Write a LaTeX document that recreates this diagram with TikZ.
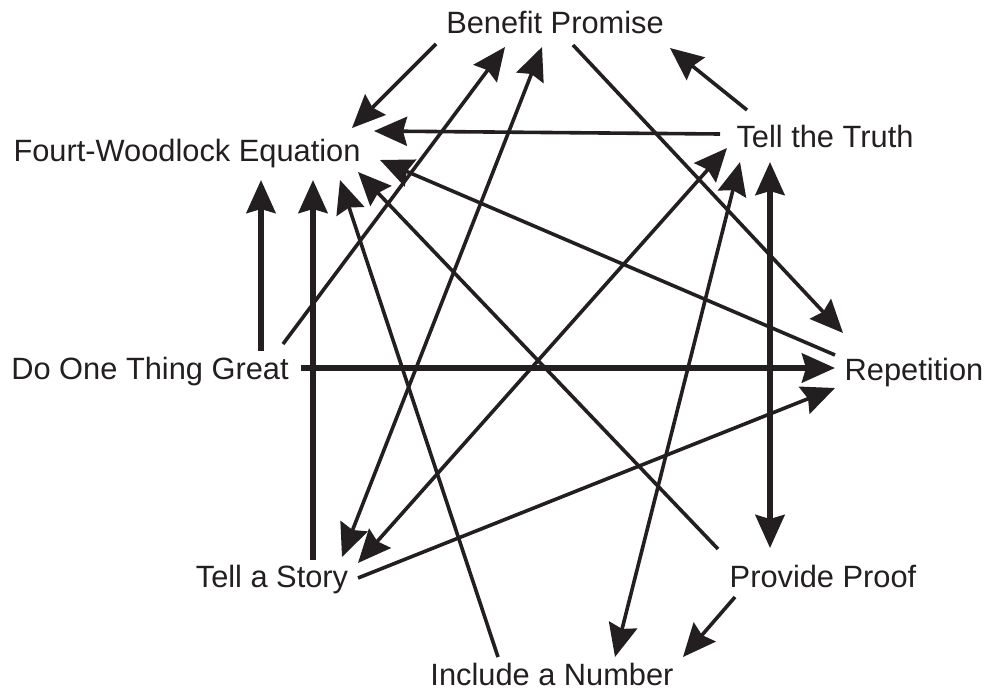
\documentclass[tikz,border=0pt]{standalone}
\usepackage{fontspec}
\setmainfont{Liberation Sans}
\usetikzlibrary{arrows.meta,calc}
\definecolor{ink}{HTML}{231F20}
\tikzset{
  lbl/.style={anchor=base,inner sep=0pt,text=ink,font=\fontsize{30.8}{36}\selectfont},
  arr/.style={draw=ink,line width=3.6pt,-{Stealth[length=33pt,width=29pt,inset=4pt]}},
  darr/.style={draw=ink,line width=3.6pt,{Stealth[length=33pt,width=29pt,inset=4pt]}-{Stealth[length=33pt,width=29pt,inset=4pt]}},
  thick arr/.style={arr,line width=5.5pt},
  thick darr/.style={darr,line width=5.5pt}
}
\begin{document}
\begin{tikzpicture}[x=1pt,y=-1pt]
\useasboundingbox[fill=white] (0,0) rectangle (987,691);
\node[lbl] (bp) at (555,33) {Benefit Promise};
\node[lbl] (fw) at (187,161) {Fourt-Woodlock Equation};
\node[lbl] (tt) at (825,147) {Tell the Truth};
\node[lbl] (dotg) at (150,379) {Do One Thing Great};
\node[lbl] (rep) at (914,380) {Repetition};
\node[lbl] (ts) at (272,587) {Tell a Story};
\node[lbl] (pp) at (823,587) {Provide Proof};
\node[lbl] (ian) at (552,685) {Include a Number};
% connectors
\draw[arr] ($(bp.base)+(-119,11)$) -- ($(fw.base)+(165,-33)$);
\draw[arr] ($(tt.base)+(-105,-13)$) -- ($(fw.base)+(187,-30)$);
\draw[arr] ($(tt.base)+(-78,-37)$) -- ($(bp.base)+(115,15)$);
\draw[arr] ($(dotg.base)+(133,-35)$) -- ($(bp.base)+(-50,14)$);
\draw[darr] ($(ts.base)+(70,-30)$) -- ($(bp.base)+(-13,14)$);
\draw[darr] ($(ts.base)+(86,-24)$) -- ($(tt.base)+(-98,1)$);
\draw[thick darr] ($(tt.base)+(-55,15)$) -- ($(pp.base)+(-53,-39)$);
\draw[darr] ($(tt.base)+(-85,15)$) -- ($(ian.base)+(63,-28)$);
\draw[arr] ($(pp.base)+(-88,10)$) -- ($(ian.base)+(131,-28)$);
\draw[arr] ($(bp.base)+(18,12)$) -- ($(rep.base)+(-71,-47)$);
\draw[thick arr] ($(dotg.base)+(151,-11)$) -- ($(rep.base)+(-79,-12)$);
\draw[arr] ($(ts.base)+(86,-9)$) -- ($(rep.base)+(-79,8)$);
\draw[arr] ($(rep.base)+(-79,-25)$) -- ($(fw.base)+(193,-1)$);
\draw[arr] ($(pp.base)+(-105,-38)$) -- ($(fw.base)+(171,11)$);
\draw[arr] ($(ian.base)+(-54,-28)$) -- ($(fw.base)+(153,19)$);
\draw[thick arr] ($(ts.base)+(41,-27)$) -- ($(fw.base)+(126,19)$);
\draw[thick arr] ($(dotg.base)+(111,-28)$) -- ($(fw.base)+(74,19)$);
\end{tikzpicture}
\end{document}
